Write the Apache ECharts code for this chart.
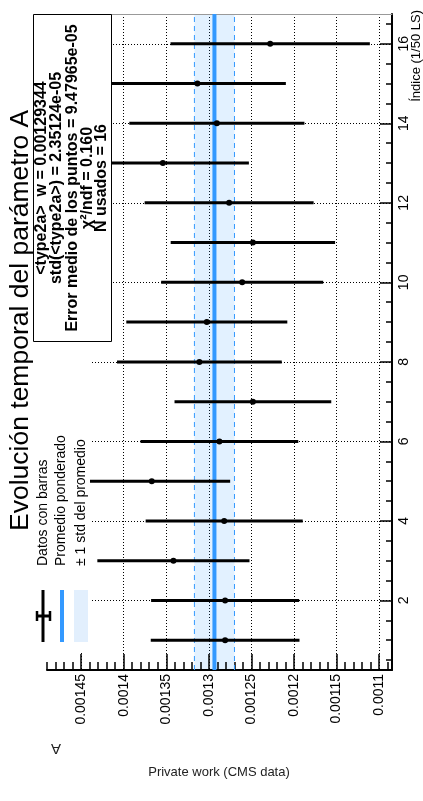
<!DOCTYPE html>
<html style="height: 100%">
<head>
<meta charset="utf-8">
<title>Evolución temporal</title>
<script src="https://cdn.jsdelivr.net/npm/echarts@6/dist/echarts.min.js"></script>
</head>
<body style="height: 100%; margin: 0; background-color: #fff;">
<div id="container" style="width: 423px; height: 801px;"></div>
<script type="text/javascript">
// datos: indice (1/50 LS), valor de A y su error
var indices = [1, 2, 3, 4, 5, 6, 7, 8, 9, 10, 11, 12, 13, 14, 15, 16];
var valores = [0.0012809, 0.0012809, 0.0013416, 0.0012820, 0.0013670, 0.0012876, 0.0012483, 0.0013111,
               0.0013024, 0.0012609, 0.0012483, 0.0012762, 0.0013540, 0.0012906, 0.0013134, 0.0012280];
var errores = [8.73e-5, 8.69e-5, 8.93e-5, 9.22e-5, 9.20e-5, 9.26e-5, 9.20e-5, 9.67e-5,
               9.45e-5, 9.51e-5, 9.65e-5, 9.92e-5, 1.01e-4, 1.028e-4, 1.038e-4, 1.17e-4];
var promedio = 0.00129344;
var stdProm = 2.35124e-5;

var ticksValor = [0.0011, 0.00115, 0.0012, 0.00125, 0.0013, 0.00135, 0.0014, 0.00145];
var ticksIndice = [2, 4, 6, 8, 10, 12, 14, 16];

var statsLineas = [
    '<type2a>  w = 0.00129344',
    'std(<type2a>) = 2.35124e-05',
    'Error medio de los puntos = 9.47965e-05',
    '\u03c7\u00b2/ndf = 0.160',
    'N usados = 16'
];
var leyenda = ['Datos con barras', 'Promedio ponderado', '\u00b1 1 std del promedio'];

var minorValor = [];
for (var k = 109; k <= 149; k++) minorValor.push(k / 100000);
var minorIndice = [];
for (var m = 1; m <= 33; m++) minorIndice.push(m / 2);

var IDX_MIN = 0.25, IDX_MAX = 16.75;
var FONT = '"Liberation Sans", Arial, sans-serif';
var dom = document.getElementById('container');
var myChart = echarts.init(dom);

var puntos = [];
for (var i = 0; i < indices.length; i++) {
    puntos.push([indices[i], valores[i], errores[i]]);
}

var graficos = [
    // titulo
    { type: 'text', x: 21, y: 531, rotation: Math.PI / 2, z: 20,
      style: { text: 'Evoluci\u00f3n temporal del par\u00e1metro A', fontSize: 26.5, fontFamily: FONT,
               fill: '#000', align: 'left', verticalAlign: 'middle' } },
    // caja de estadisticas
    { type: 'rect', shape: { x: 33.5, y: 14.5, width: 78, height: 327 }, z: 10,
      style: { fill: '#fff', stroke: '#000', lineWidth: 1 } },
    // caja de leyenda
    { type: 'rect', shape: { x: 33, y: 342, width: 57, height: 310 }, z: 10,
      style: { fill: '#fff' } },
    // simbolos de leyenda
    { type: 'line', shape: { x1: 43, y1: 590, x2: 43, y2: 642 }, z: 11, style: { stroke: '#000', lineWidth: 3 } },
    { type: 'line', shape: { x1: 37, y1: 616, x2: 50, y2: 616 }, z: 11, style: { stroke: '#000', lineWidth: 3 } },
    { type: 'line', shape: { x1: 37, y1: 611, x2: 37, y2: 621 }, z: 11, style: { stroke: '#000', lineWidth: 2.5 } },
    { type: 'line', shape: { x1: 50, y1: 611, x2: 50, y2: 621 }, z: 11, style: { stroke: '#000', lineWidth: 2.5 } },
    { type: 'rect', shape: { x: 60, y: 590, width: 4, height: 52 }, z: 11, style: { fill: '#3399ff' } },
    { type: 'rect', shape: { x: 74, y: 590, width: 14, height: 52 }, z: 11, style: { fill: '#e2effd' } },
    // textos sueltos
    { type: 'text', x: 56, y: 748, rotation: Math.PI, z: 20,
      style: { text: 'A', fontSize: 15, fontFamily: FONT, fill: '#222', align: 'center', verticalAlign: 'middle' } },
    { type: 'text', x: 219, y: 772, z: 20,
      style: { text: 'Private work (CMS data)', fontSize: 13, fontFamily: FONT, fill: '#222',
               align: 'center', verticalAlign: 'middle' } },
    { type: 'text', x: 416, y: 10, rotation: Math.PI / 2, z: 20,
      style: { text: '\u00cdndice (1/50 LS)', fontSize: 13, fontFamily: FONT, fill: '#000',
               align: 'right', verticalAlign: 'middle' } }
];
var xsStats = [42, 57, 72.5, 87.5, 102];
for (var s = 0; s < statsLineas.length; s++) {
    graficos.push({ type: 'text', x: xsStats[s], y: 178, rotation: Math.PI / 2, z: 12,
        style: { text: statsLineas[s], fontSize: 16, fontWeight: 'bold', fontFamily: FONT, fill: '#000',
                 align: 'center', verticalAlign: 'middle' } });
}
var xsLey = [43, 61, 81];
for (var l = 0; l < leyenda.length; l++) {
    graficos.push({ type: 'text', x: xsLey[l], y: 566, rotation: Math.PI / 2, z: 12,
        style: { text: leyenda[l], fontSize: 14, fontFamily: FONT, fill: '#000',
                 align: 'left', verticalAlign: 'middle' } });
}

var punteado = { color: '#000', width: 1, type: [1, 2] };

function lineaVertical(nombre, x, ancho, tipo) {
    return { name: nombre, type: 'line', z: 1.5, silent: true, symbol: 'none',
             data: [[x, IDX_MIN], [x, IDX_MAX]],
             lineStyle: { color: '#3399ff', width: ancho, type: tipo } };
}

var option = {
    animation: false,
    backgroundColor: '#fff',
    grid: { left: 47, right: 31, top: 14, bottom: 131 },
    xAxis: [
        { type: 'value', inverse: true, min: 0.001085, max: 0.00149, position: 'bottom', z: 1,
          axisLine: { show: true, lineStyle: { color: '#000', width: 2 } },
          axisTick: { show: true, inside: true, length: 16, customValues: ticksValor,
                      lineStyle: { color: '#000', width: 1.5 } },
          axisLabel: { show: true, customValues: ticksValor, rotate: 90, fontSize: 14, fontFamily: FONT,
                       color: '#000', margin: 4, formatter: function (v) { return String(v); } },
          splitLine: { show: true, lineStyle: punteado } },
        { type: 'value', inverse: true, min: 0.001085, max: 0.00149, position: 'bottom', z: 1,
          axisLine: { show: false },
          axisTick: { show: true, inside: true, length: 8, customValues: minorValor,
                      lineStyle: { color: '#000', width: 1.5 } },
          axisLabel: { show: false }, splitLine: { show: false } },
        { type: 'value', inverse: true, min: 0.001085, max: 0.00149, position: 'top', z: 1,
          axisLine: { show: true, lineStyle: { color: '#999', width: 1 } },
          axisTick: { show: false }, axisLabel: { show: false }, splitLine: { show: false } }
    ],
    yAxis: [
        { type: 'value', min: IDX_MIN, max: IDX_MAX, position: 'right', z: 1,
          axisLine: { show: true, lineStyle: { color: '#000', width: 2 } },
          axisTick: { show: true, inside: true, length: 12, customValues: ticksIndice,
                      lineStyle: { color: '#000', width: 1.5 } },
          axisLabel: { show: true, customValues: ticksIndice, rotate: 90, fontSize: 14, fontFamily: FONT,
                       color: '#000', margin: 5 },
          splitLine: { show: true, lineStyle: punteado } },
        { type: 'value', min: IDX_MIN, max: IDX_MAX, position: 'right', z: 1,
          axisLine: { show: false },
          axisTick: { show: true, inside: true, length: 6, customValues: minorIndice,
                      lineStyle: { color: '#000', width: 1.5 } },
          axisLabel: { show: false }, splitLine: { show: false } }
    ],
    graphic: graficos,
    series: [
        {
            name: 'banda', type: 'line', data: [], z: 0.5, silent: true,
            markArea: { silent: true, itemStyle: { color: 'rgba(51,153,255,0.14)' },
                        data: [[{ xAxis: promedio + stdProm }, { xAxis: promedio - stdProm }]] }
        },
        lineaVertical('std inferior', promedio - stdProm, 1, [5, 4]),
        lineaVertical('std superior', promedio + stdProm, 1, [5, 4]),
        lineaVertical('Promedio ponderado', promedio, 4, 'solid'),
        {
            name: 'Datos con barras', type: 'custom', z: 3,
            encode: { x: 1, y: 0 },
            data: puntos,
            renderItem: function (params, api) {
                var idx = api.value(0), v = api.value(1), e = api.value(2);
                var p0 = api.coord([v - e, idx]);
                var p1 = api.coord([v + e, idx]);
                var c = api.coord([v, idx]);
                return { type: 'group', children: [
                    { type: 'line', shape: { x1: p0[0], y1: p0[1], x2: p1[0], y2: p1[1] },
                      style: { stroke: '#000', lineWidth: 3 } },
                    { type: 'circle', shape: { cx: c[0], cy: c[1], r: 3 }, style: { fill: '#000' } }
                ] };
            }
        }
    ]
};
myChart.setOption(option);
</script>
</body>
</html>
